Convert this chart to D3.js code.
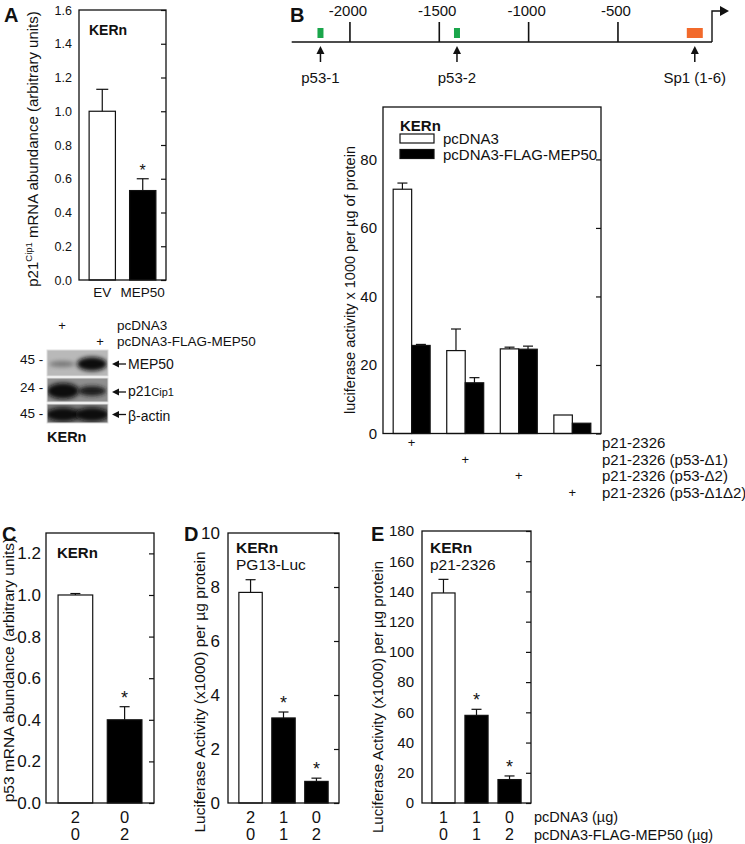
<!DOCTYPE html>
<html>
<head>
<meta charset="utf-8">
<script src="https://cdn.jsdelivr.net/npm/d3@7"></script>
<style>
  html, body { margin: 0; padding: 0; background: #fff; }
  svg { display: block; font-family: "Liberation Sans", Arial, sans-serif; }
</style>
</head>
<body>
<svg id="fig" width="745" height="844"></svg>
<script>
// ---------------- DATA ----------------
// Panel A: p21Cip1 mRNA
const aCategories = ["EV", "MEP50"];
const aValues = [1.0, 0.53];
const aErrors = [0.13, 0.07];
const aSignificant = [false, true];
const aTicks = [0.0, 0.2, 0.4, 0.6, 0.8, 1.0, 1.2, 1.4, 1.6];
const aBlotRows = ["MEP50", "p21", "β-actin"];
const aBlotMarkers = ["45 -", "24 -", "45 -"];

// Panel B: promoter map (bp upstream)
const bMapTicks = [-2000, -1500, -1000, -500];
const bSiteNames = ["p53-1", "p53-2", "Sp1 (1-6)"];
const bSitePositions = [-2165, -1401, -70];
// Panel B: luciferase bars
const bConstructs = ["p21-2326", "p21-2326 (p53-Δ1)", "p21-2326 (p53-Δ2)", "p21-2326 (p53-Δ1Δ2)"];
const bSeries = ["pcDNA3", "pcDNA3-FLAG-MEP50"];
const bPcDNA3 = [71.3, 24.2, 24.7, 5.4];
const bPcDNA3Err = [1.8, 6.3, 0.5, 0];
const bMEP50 = [25.7, 14.8, 24.6, 3.0];
const bMEP50Err = [0.3, 1.5, 0.9, 0];
const bTicks = [0, 20, 40, 60, 80];

// Panel C: p53 mRNA
const cPcDNA3 = ["2", "0"];
const cMEP50 = ["0", "2"];
const cValues = [1.0, 0.40];
const cErrors = [0.007, 0.063];
const cSignificant = [false, true];
const cTicks = [0.0, 0.2, 0.4, 0.6, 0.8, 1.0, 1.2];

// Panel D: PG13-Luc
const dPcDNA3 = ["2", "1", "0"];
const dMEP50 = ["0", "1", "2"];
const dValues = [7.8, 3.15, 0.8];
const dErrors = [0.47, 0.22, 0.12];
const dSignificant = [false, true, true];
const dTicks = [0, 2, 4, 6, 8, 10];

// Panel E: p21-2326
const ePcDNA3 = ["1", "1", "0"];
const eMEP50 = ["0", "1", "2"];
const eValues = [139, 58, 15.5];
const eErrors = [9, 4, 2.4];
const eSignificant = [false, true, true];
const eTicks = [0, 20, 40, 60, 80, 100, 120, 140, 160, 180];

// ---------------- DRAWING ----------------
const svg = d3.select("#fig");
svg.append("rect").attr("width", 745).attr("height", 844).attr("fill", "#fff");

function label(g, x, y, txt, opts = {}) {
  return g.append("text").attr("x", x).attr("y", y)
    .attr("font-size", opts.size || 14)
    .attr("font-weight", opts.bold ? "bold" : "normal")
    .attr("text-anchor", opts.anchor || "start")
    .attr("fill", "#111")
    .text(txt);
}

function barPanel(cfg) {
  const g = svg.append("g");
  const y = d3.scaleLinear().domain(cfg.domain).range([cfg.y1, cfg.y0]);
  const x = d3.scaleBand().domain(d3.range(cfg.values.length))
    .range([cfg.x0, cfg.x1]).paddingInner(cfg.pi).paddingOuter(cfg.po);
  const rAxis = d3.axisRight(y).tickValues(cfg.ticks).tickSize(-5).tickFormat("");
  const ra = g.append("g").attr("transform", `translate(${cfg.x1},0)`).call(rAxis);
  ra.select(".domain").remove();
  ra.selectAll("line").attr("stroke", "#111").attr("stroke-width", 1.2);
  const lAxis = d3.axisLeft(y).tickValues(cfg.ticks).tickSize(0).tickPadding(cfg.tickPad || 7)
    .tickFormat(cfg.fmt);
  const la = g.append("g").attr("transform", `translate(${cfg.x0},0)`).call(lAxis);
  la.select(".domain").remove();
  la.selectAll("text").attr("font-size", cfg.tickSize).attr("fill", "#111")
    .attr("font-family", '"Liberation Sans", Arial, sans-serif');
  cfg.values.forEach((v, i) => {
    const bx = x(i), bw = x.bandwidth();
    g.append("rect").attr("x", bx).attr("y", y(v)).attr("width", bw)
      .attr("height", y(0) - y(v))
      .attr("fill", cfg.fills[i]).attr("stroke", "#111").attr("stroke-width", 1.2);
    const e = cfg.errors[i];
    const cx = bx + bw / 2;
    if (e > 0) {
      g.append("line").attr("x1", cx).attr("x2", cx).attr("y1", y(v)).attr("y2", y(v + e))
        .attr("stroke", "#111").attr("stroke-width", 1.2);
      g.append("line").attr("x1", cx - cfg.cap).attr("x2", cx + cfg.cap)
        .attr("y1", y(v + e)).attr("y2", y(v + e)).attr("stroke", "#111").attr("stroke-width", 1.2);
    }
    if (cfg.sig && cfg.sig[i]) {
      label(g, cx, y(v + e) - 3, "*", { size: cfg.starSize || 18, anchor: "middle" });
    }
  });
  g.append("rect").attr("x", cfg.x0).attr("y", cfg.y0).attr("width", cfg.x1 - cfg.x0)
    .attr("height", cfg.y1 - cfg.y0).attr("fill", "none").attr("stroke", "#111").attr("stroke-width", 1.3);
  return { g, x, y };
}

// ===== Panel A =====
label(svg, 4, 22, "A", { size: 20, bold: true });
const pA = barPanel({
  x0: 79, x1: 166, y0: 10, y1: 280, domain: [0, 1.6], ticks: aTicks,
  values: aValues, errors: aErrors, fills: ["#fff", "#000"], sig: aSignificant,
  pi: 0.35, po: 0.25, cap: 6, tickSize: 12.5, fmt: d3.format(".1f"), starSize: 16
});
label(svg, 89, 35, "KERn", { size: 14, bold: true });
aCategories.forEach((c, i) => {
  label(svg, pA.x(i) + pA.x.bandwidth() / 2, 297, c, { size: 13.5, anchor: "middle" });
});
{
  const t = svg.append("text").attr("transform", "translate(38,149) rotate(-90)")
    .attr("text-anchor", "middle").attr("font-size", 15).attr("fill", "#111");
  t.append("tspan").text("p21");
  t.append("tspan").attr("font-size", 9.5).attr("dy", -6).text("Cip1");
  t.append("tspan").attr("dy", 6).text(" mRNA abundance (arbitrary units)");
}

// Western blot (panel A)
label(svg, 62, 330, "+", { size: 13, anchor: "middle" });
label(svg, 117, 330, "pcDNA3", { size: 13.5 });
label(svg, 100, 346, "+", { size: 13, anchor: "middle" });
label(svg, 117, 346, "pcDNA3-FLAG-MEP50", { size: 13.5 });
const defs = svg.append("defs");
defs.append("filter").attr("id", "blur").attr("x", "-30%").attr("y", "-60%").attr("width", "160%").attr("height", "220%")
  .append("feGaussianBlur").attr("stdDeviation", 2.2);
const blotBoxes = [
  { y: 350, h: 26, bg: "#b9b9b9", bands: [{ cx: 62, ry: 3, rx: 13, c: "#777" }, { cx: 92, ry: 7, rx: 15, c: "#111" }] },
  { y: 378, h: 24, bg: "#8f8f8f", bands: [{ cx: 63, ry: 8, rx: 16, c: "#0a0a0a" }, { cx: 92, ry: 5, rx: 14, c: "#1a1a1a" }] },
  { y: 404, h: 19, bg: "#7c7c7c", bands: [{ cx: 63, ry: 7, rx: 17, c: "#0a0a0a" }, { cx: 92, ry: 7, rx: 17, c: "#0a0a0a" }] }
];
blotBoxes.forEach((b, i) => {
  const gb = svg.append("g");
  const clipId = "clip" + i;
  defs.append("clipPath").attr("id", clipId).append("rect").attr("x", 47).attr("y", b.y).attr("width", 61).attr("height", b.h);
  gb.append("rect").attr("x", 47).attr("y", b.y).attr("width", 61).attr("height", b.h).attr("fill", b.bg);
  const inner = gb.append("g").attr("clip-path", `url(#${clipId})`);
  b.bands.forEach(bd => {
    inner.append("ellipse").attr("cx", bd.cx).attr("cy", b.y + b.h / 2 + 1)
      .attr("rx", bd.rx).attr("ry", bd.ry).attr("fill", bd.c).attr("filter", "url(#blur)");
  });
  gb.append("rect").attr("x", 47).attr("y", b.y).attr("width", 61).attr("height", b.h)
    .attr("fill", "none").attr("stroke", "#ddd").attr("stroke-width", 1);
  label(svg, 20, b.y + 14, aBlotMarkers[i], { size: 13.5 });
  const ay = b.y + b.h / 2 + (i === 1 ? 2 : 1);
  svg.append("line").attr("x1", 118).attr("x2", 126).attr("y1", ay).attr("y2", ay).attr("stroke", "#111").attr("stroke-width", 1.3);
  svg.append("path").attr("d", `M112,${ay} L119,${ay - 3.5} L119,${ay + 3.5} Z`).attr("fill", "#111");
});
label(svg, 128, 369, "MEP50", { size: 14 });
{
  const t = label(svg, 128, 396, "", { size: 14 });
  t.append("tspan").text("p21");
  t.append("tspan").attr("font-size", 11).text("Cip1");
}
label(svg, 128, 421, "β-actin", { size: 14 });
label(svg, 47, 442, "KERn", { size: 14.5, bold: true });

// ===== Panel B: promoter map =====
label(svg, 290, 22, "B", { size: 20, bold: true });
const bp = d3.scaleLinear().domain([-2326, 0]).range([291.7, 707.3]);
svg.append("line").attr("x1", bp(-2326)).attr("x2", 712).attr("y1", 42).attr("y2", 42).attr("stroke", "#111").attr("stroke-width", 1.4);
bMapTicks.forEach(t => {
  svg.append("line").attr("x1", bp(t)).attr("x2", bp(t)).attr("y1", 22).attr("y2", 42).attr("stroke", "#111").attr("stroke-width", 1.6);
  label(svg, bp(t) - 2, 16, String(t), { size: 15, anchor: "middle" });
});
svg.append("path").attr("d", "M712,42 L712,11 L722,11").attr("fill", "none").attr("stroke", "#111").attr("stroke-width", 1.4);
svg.append("path").attr("d", "M729,11 L720,6 L720,16 Z").attr("fill", "#111");
bSitePositions.forEach((p, i) => {
  const cx = bp(p);
  if (i < 2) {
    svg.append("rect").attr("x", cx - 3).attr("y", 28).attr("width", 6).attr("height", 10).attr("fill", "#1aa64b");
  } else {
    svg.append("rect").attr("x", cx - 8).attr("y", 28).attr("width", 16).attr("height", 10).attr("fill", "#f26a2b");
  }
  svg.append("line").attr("x1", cx).attr("x2", cx).attr("y1", 62).attr("y2", 52).attr("stroke", "#111").attr("stroke-width", 1.5);
  svg.append("path").attr("d", `M${cx},46 L${cx - 4},54 L${cx + 4},54 Z`).attr("fill", "#111");
  label(svg, cx, 83, bSiteNames[i], { size: 15, anchor: "middle" });
});

// ===== Panel B: bars =====
{
  const x0 = 383, x1 = 601, y0 = 107, y1 = 433.5;
  const g = svg.append("g");
  const y = d3.scaleLinear().domain([0, 95.3]).range([y1, y0]);
  const xg = d3.scaleBand().domain(d3.range(bConstructs.length)).range([x0, x1]).paddingInner(0.31).paddingOuter(0.19);
  const xs = d3.scaleBand().domain([0, 1]).range([0, xg.bandwidth()]);
  const ra = g.append("g").attr("transform", `translate(${x1},0)`).call(d3.axisRight(y).tickValues(bTicks).tickSize(-5).tickFormat(""));
  ra.select(".domain").remove();
  ra.selectAll("line").attr("stroke", "#111").attr("stroke-width", 1.2);
  const la = g.append("g").attr("transform", `translate(${x0},0)`).call(d3.axisLeft(y).tickValues(bTicks).tickSize(0).tickPadding(6));
  la.select(".domain").remove();
  la.selectAll("text").attr("font-size", 15).attr("fill", "#111").attr("font-family", '"Liberation Sans", Arial, sans-serif');
  const series = [[bPcDNA3, bPcDNA3Err, "#fff"], [bMEP50, bMEP50Err, "#000"]];
  bConstructs.forEach((c, i) => {
    series.forEach((s, j) => {
      const v = s[0][i], e = s[1][i];
      const bx = xg(i) + xs(j), bw = xs.bandwidth();
      g.append("rect").attr("x", bx).attr("y", y(v)).attr("width", bw).attr("height", y(0) - y(v))
        .attr("fill", s[2]).attr("stroke", "#111").attr("stroke-width", 1.2);
      if (e > 0) {
        const cx = bx + bw / 2;
        g.append("line").attr("x1", cx).attr("x2", cx).attr("y1", y(v)).attr("y2", y(v + e)).attr("stroke", "#111").attr("stroke-width", 1.2);
        g.append("line").attr("x1", cx - 5).attr("x2", cx + 5).attr("y1", y(v + e)).attr("y2", y(v + e)).attr("stroke", "#111").attr("stroke-width", 1.2);
      }
    });
    const ry = 448 + i * 16.5;
    label(svg, xg(i) + xg.bandwidth() / 2, ry - 1, "+", { size: 13, anchor: "middle" });
    label(svg, 602, ry, c, { size: 15 });
  });
  g.append("rect").attr("x", x0).attr("y", y0).attr("width", x1 - x0).attr("height", y1 - y0)
    .attr("fill", "none").attr("stroke", "#111").attr("stroke-width", 1.3);
  label(svg, 400, 131, "KERn", { size: 15, bold: true });
  svg.append("rect").attr("x", 400).attr("y", 134).attr("width", 34).attr("height", 9).attr("fill", "#fff").attr("stroke", "#111").attr("stroke-width", 1.2);
  svg.append("rect").attr("x", 400).attr("y", 149.5).attr("width", 34).attr("height", 9).attr("fill", "#000").attr("stroke", "#111").attr("stroke-width", 1.2);
  label(svg, 443, 144, bSeries[0], { size: 15 });
  label(svg, 443, 159.5, bSeries[1], { size: 15 });
  svg.append("text").attr("transform", "translate(355,280) rotate(-90)").attr("text-anchor", "middle")
    .attr("font-size", 14.5).attr("fill", "#111").text("luciferase activity x 1000 per µg of protein");
}

// ===== Panel C =====
label(svg, 2, 541, "C", { size: 20, bold: true });
const pC = barPanel({
  x0: 46, x1: 154, y0: 533, y1: 803, domain: [0, 1.298], ticks: cTicks,
  values: cValues, errors: cErrors, fills: ["#fff", "#000"], sig: cSignificant,
  pi: 0.296, po: 0.245, cap: 5, tickSize: 17, fmt: d3.format(".1f"), tickPad: 5
});
label(svg, 57, 558, "KERn", { size: 15, bold: true });
cValues.forEach((v, i) => {
  const cx = pC.x(i) + pC.x.bandwidth() / 2;
  label(svg, cx, 823, cPcDNA3[i], { size: 16.5, anchor: "middle" });
  label(svg, cx, 840, cMEP50[i], { size: 16.5, anchor: "middle" });
});
svg.append("text").attr("transform", "translate(14,670) rotate(-90)").attr("text-anchor", "middle")
  .attr("font-size", 15.5).attr("fill", "#111").text("p53 mRNA abundance (arbitrary units)");

// ===== Panel D =====
label(svg, 184, 541, "D", { size: 20, bold: true });
const pD = barPanel({
  x0: 228, x1: 339, y0: 533, y1: 803, domain: [0, 10], ticks: dTicks,
  values: dValues, errors: dErrors, fills: ["#fff", "#000", "#000"], sig: dSignificant,
  pi: 0.29, po: 0.33, cap: 5, tickSize: 17, fmt: d3.format("d"), tickPad: 8
});
label(svg, 236, 553, "KERn", { size: 15.5, bold: true });
label(svg, 236, 570, "PG13-Luc", { size: 15.5 });
dValues.forEach((v, i) => {
  const cx = pD.x(i) + pD.x.bandwidth() / 2;
  label(svg, cx, 823, dPcDNA3[i], { size: 16.5, anchor: "middle" });
  label(svg, cx, 840, dMEP50[i], { size: 16.5, anchor: "middle" });
});
svg.append("text").attr("transform", "translate(205,692) rotate(-90)").attr("text-anchor", "middle")
  .attr("font-size", 15.5).attr("fill", "#111").text("Luciferase Activity (x1000) per µg protein");

// ===== Panel E =====
label(svg, 371, 541, "E", { size: 20, bold: true });
const pE = barPanel({
  x0: 422, x1: 531, y0: 531, y1: 803, domain: [0, 180], ticks: eTicks,
  values: eValues, errors: eErrors, fills: ["#fff", "#000", "#000"], sig: eSignificant,
  pi: 0.3, po: 0.3, cap: 5, tickSize: 15, fmt: d3.format("d"), tickPad: 8
});
label(svg, 430, 553, "KERn", { size: 15.5, bold: true });
label(svg, 430, 570, "p21-2326", { size: 15.5 });
eValues.forEach((v, i) => {
  const cx = pE.x(i) + pE.x.bandwidth() / 2;
  label(svg, cx, 823, ePcDNA3[i], { size: 16, anchor: "middle" });
  label(svg, cx, 840, eMEP50[i], { size: 16, anchor: "middle" });
});
label(svg, 534, 822, "pcDNA3 (µg)", { size: 14.5 });
label(svg, 534, 840, "pcDNA3-FLAG-MEP50 (µg)", { size: 14.5 });
svg.append("text").attr("transform", "translate(383,697) rotate(-90)").attr("text-anchor", "middle")
  .attr("font-size", 15).attr("fill", "#111").text("Luciferase Activity (x1000) per µg protein");
</script>
</body>
</html>
